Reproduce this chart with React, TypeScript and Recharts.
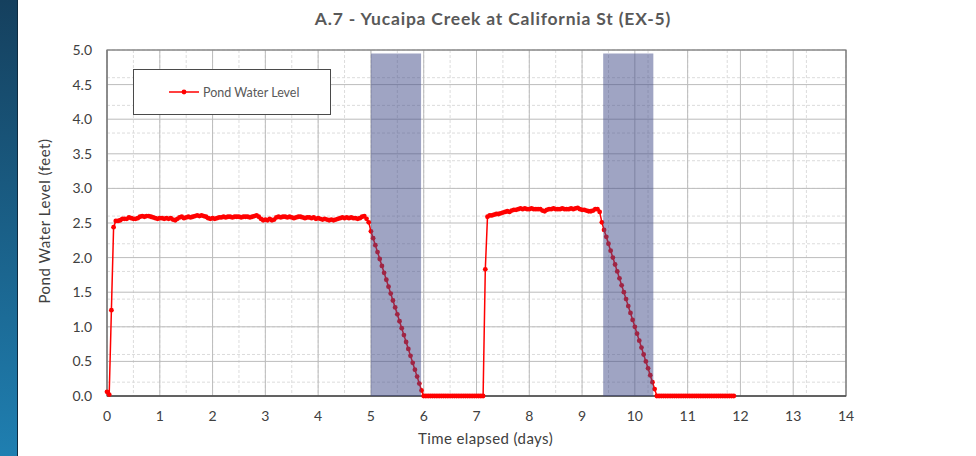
import { LineChart, Line, XAxis, YAxis, CartesianGrid, ReferenceArea } from "recharts";

// Hourly pond level readings (feet), first reading at day 0
const SAMPLE_STEP_DAYS = 1 / 24;
const pondLevel = [
  // day 0
  0.06, 0.02, 1.24, 2.44, 2.53, 2.53, 2.54, 2.56, 2.56, 2.56, 2.58, 2.57,
  2.56, 2.56, 2.57, 2.59, 2.6, 2.59, 2.6, 2.6, 2.59, 2.58, 2.57, 2.56,
  // day 1
  2.57, 2.57, 2.56, 2.57, 2.56, 2.57, 2.55, 2.54, 2.56, 2.58, 2.59, 2.57,
  2.58, 2.59, 2.58, 2.59, 2.6, 2.61, 2.6, 2.61, 2.6, 2.59, 2.57, 2.56,
  // day 2
  2.57, 2.56, 2.57, 2.58, 2.58, 2.59, 2.58, 2.59, 2.59, 2.58, 2.59, 2.59,
  2.59, 2.58, 2.59, 2.59, 2.59, 2.58, 2.59, 2.6, 2.61, 2.59, 2.56, 2.54,
  // day 3
  2.55, 2.54, 2.56, 2.54, 2.55, 2.58, 2.59, 2.58, 2.59, 2.59, 2.58, 2.59,
  2.58, 2.57, 2.58, 2.59, 2.59, 2.58, 2.57, 2.58, 2.58, 2.57, 2.58, 2.56,
  // day 4
  2.57, 2.56, 2.55, 2.56, 2.55, 2.54, 2.55, 2.54, 2.55, 2.56, 2.57, 2.58,
  2.57, 2.58, 2.57, 2.58, 2.57, 2.57, 2.56, 2.57, 2.59, 2.6, 2.56, 2.51,
  // day 5
  2.38, 2.28, 2.18, 2.08, 1.98, 1.88, 1.78, 1.68, 1.58, 1.48, 1.38, 1.28,
  1.18, 1.08, 0.98, 0.88, 0.78, 0.68, 0.58, 0.48, 0.38, 0.28, 0.18, 0.08,
  // day 6
  0, 0, 0, 0, 0, 0, 0, 0, 0, 0, 0, 0,
  0, 0, 0, 0, 0, 0, 0, 0, 0, 0, 0, 0,
  // day 7
  0, 0, 0, 0, 1.83, 2.59, 2.61, 2.61, 2.62, 2.63, 2.63, 2.64,
  2.65, 2.66, 2.67, 2.66, 2.68, 2.69, 2.69, 2.7, 2.71, 2.7, 2.71, 2.7,
  // day 8
  2.7, 2.71, 2.7, 2.7, 2.7, 2.7, 2.68, 2.67, 2.69, 2.7, 2.7, 2.71,
  2.7, 2.7, 2.7, 2.71, 2.7, 2.7, 2.7, 2.71, 2.7, 2.71, 2.72, 2.7,
  // day 9
  2.69, 2.69, 2.68, 2.67, 2.67, 2.68, 2.7, 2.7, 2.66, 2.51, 2.4, 2.3,
  2.2, 2.1, 2.0, 1.9, 1.8, 1.7, 1.6, 1.5, 1.4, 1.3, 1.2, 1.1,
  // day 10
  1.0, 0.9, 0.8, 0.7, 0.6, 0.5, 0.4, 0.3, 0.2, 0.1, 0, 0,
  0, 0, 0, 0, 0, 0, 0, 0, 0, 0, 0, 0,
  // day 11
  0, 0, 0, 0, 0, 0, 0, 0, 0, 0, 0, 0,
  0, 0, 0, 0, 0, 0, 0, 0, 0, 0,
];

const dayTicks = [0, 1, 2, 3, 4, 5, 6, 7, 8, 9, 10, 11, 12, 13, 14];
const levelTicks = [0, 0.5, 1, 1.5, 2, 2.5, 3, 3.5, 4, 4.5, 5];

// shaded drawdown windows (days)
const drainStart = [5.0, 9.4];
const drainEnd = [5.95, 10.35];
const shadeTop = 4.95;

const minorDays = Array.from({ length: 57 }, (_, i) => i * 0.25);
const minorLevels = Array.from({ length: 51 }, (_, i) => i * 0.1);

const data = pondLevel.map((level, i) => ({ day: i * SAMPLE_STEP_DAYS, level }));

const FONT = "Lato, 'Open Sans', sans-serif";
const RED = "#ff0000";
const W = 976;
const H = 456;

export default function App() {
  return (
    <div
      style={{
        position: "absolute",
        left: 0,
        top: 0,
        width: W,
        height: H,
        background: "#fff",
        overflow: "hidden",
        fontFamily: FONT,
      }}
    >
      <div
        style={{
          position: "absolute",
          left: 0,
          top: 0,
          width: 17,
          height: H,
          background: "linear-gradient(#15405e, #1f7fb1)",
          borderRight: "1px solid #0e2b40",
        }}
      />
      <div
        style={{
          position: "absolute",
          left: 493,
          top: 8,
          transform: "translateX(-50%)",
          whiteSpace: "nowrap",
          fontSize: 17.5,
          letterSpacing: 0.8,
          fontWeight: 700,
          color: "#595959",
        }}
      >
        A.7 - Yucaipa Creek at California St (EX-5)
      </div>

      <div style={{ position: "absolute", left: 0, top: 0 }}>
        <LineChart width={W} height={H} data={data} margin={{ top: 50, right: 130, left: 0, bottom: 30 }}>
          <CartesianGrid
            stroke="#dcdcdc"
            strokeDasharray="3 2"
            horizontalValues={minorLevels}
            verticalValues={minorDays}
          />
          <CartesianGrid stroke="#bcbcbc" horizontalValues={levelTicks} verticalValues={dayTicks} />
          <XAxis
            dataKey="day"
            type="number"
            domain={[0, 14]}
            ticks={dayTicks}
            height={30}
            tickLine={false}
            tickMargin={9}
            axisLine={{ stroke: "#4d4d4d", strokeWidth: 1.3 }}
            tick={{ fontSize: 14, fill: "#404040", fontFamily: FONT }}
            label={{
              value: "Time elapsed (days)",
              position: "bottom",
              offset: 7,
              dx: 9,
              style: { fontSize: 15, letterSpacing: 0.4, fill: "#404040", fontFamily: FONT },
            }}
          />
          <YAxis
            type="number"
            domain={[0, 5]}
            ticks={levelTicks}
            width={107}
            tickLine={false}
            tickMargin={9}
            tickFormatter={(v: number) => v.toFixed(1)}
            axisLine={{ stroke: "#7f7f7f" }}
            tick={{ fontSize: 14, fill: "#404040", fontFamily: FONT }}
            label={{
              value: "Pond Water Level (feet)",
              angle: -90,
              position: "insideLeft",
              offset: 45,
              dy: -2,
              style: {
                textAnchor: "middle",
                fontSize: 15,
                letterSpacing: 0.5,
                fill: "#404040",
                fontFamily: FONT,
              },
            }}
          />
          <Line
            dataKey="level"
            type="linear"
            stroke={RED}
            strokeWidth={1.5}
            dot={{ r: 2.4, fill: RED, stroke: "none" }}
            activeDot={false}
            isAnimationActive={false}
          />
          <ReferenceArea x1={0} x2={14} y1={0} y2={5} fill="none" stroke="#6f6f6f" strokeWidth={1.2} />
        </LineChart>
      </div>

      {/* translucent drawdown bands drawn over the series, same scales */}
      <div style={{ position: "absolute", left: 0, top: 0, pointerEvents: "none" }}>
        <LineChart width={W} height={H} data={data} margin={{ top: 50, right: 130, left: 107, bottom: 60 }}>
          <XAxis dataKey="day" type="number" domain={[0, 14]} hide />
          <YAxis type="number" domain={[0, 5]} hide />
          <Line dataKey="level" stroke="none" dot={false} activeDot={false} isAnimationActive={false} />
          {drainStart.map((x1, i) => (
            <ReferenceArea
              key={i}
              x1={x1}
              x2={drainEnd[i]}
              y1={0}
              y2={shadeTop}
              fill="#3f4a87"
              fillOpacity={0.5}
              stroke="none"
            />
          ))}
        </LineChart>
      </div>

      <div
        style={{
          position: "absolute",
          left: 133,
          top: 69,
          width: 196,
          height: 44,
          background: "#fff",
          border: "1.3px solid #4a4a4a",
          display: "flex",
          alignItems: "center",
        }}
      >
        <svg width={30} height={10} style={{ marginLeft: 35 }}>
          <line x1={0} y1={5} x2={30} y2={5} stroke={RED} strokeWidth={1.5} />
          <circle cx={15} cy={5} r={2.4} fill={RED} />
        </svg>
        <span style={{ marginLeft: 4, fontSize: 12.5, color: "#595959" }}>Pond Water Level</span>
      </div>
    </div>
  );
}
